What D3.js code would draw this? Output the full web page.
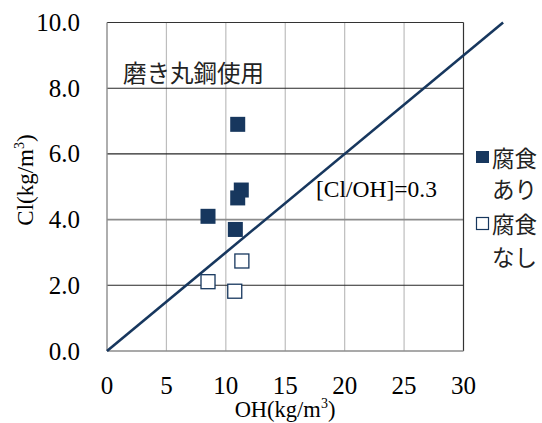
<!DOCTYPE html>
<html><head><meta charset="utf-8">
<script src="https://cdn.jsdelivr.net/npm/d3@7"></script>
<style>
body{margin:0;background:#fff}svg{display:block}
</style>
</head><body>
<svg id="c" width="542" height="423"></svg>
<script>
// Corroded specimens (腐食あり)
const corrodedOH = [11.0, 11.3, 11.0, 8.5, 10.8];
const corrodedCl = [6.9, 4.9, 4.66, 4.1, 3.7];
// Non-corroded specimens (腐食なし)
const cleanOH = [11.35, 8.5, 10.75];
const cleanCl = [2.74, 2.11, 1.82];
const xTicks = [0, 5, 10, 15, 20, 25, 30];
const yTicks = [0, 2, 4, 6, 8, 10];
const ratio = 0.3;
const navy = "#17375e";
const SERIF = '"Liberation Serif", Tinos, "Times New Roman", "DejaVu Serif", serif';
const JP = '"Noto Sans CJK JP", sans-serif';

const svg = d3.select("#c");
const L = 107, R = 463.5, T = 22.5, B = 351;
const x = d3.scaleLinear().domain([0, 30]).range([L, R]);
const y = d3.scaleLinear().domain([0, 10]).range([B, T]);

// vertical grid
svg.append("g").selectAll("line").data(xTicks.slice(1, -1)).join("line")
  .attr("x1", d => x(d)).attr("x2", d => x(d)).attr("y1", T).attr("y2", B)
  .attr("stroke", "#bdbdbd").attr("stroke-width", 1.2);
// horizontal grid
svg.append("g").selectAll("line").data(yTicks.slice(1, -1)).join("line")
  .attr("x1", L).attr("x2", R).attr("y1", d => y(d)).attr("y2", d => y(d))
  .attr("stroke", d => d === 4 ? "#8c8c8c" : "#262626")
  .attr("stroke-width", d => d === 4 ? 1.6 : 1.1);
// frame
svg.append("line").attr("x1", L).attr("x2", R).attr("y1", T).attr("y2", T).attr("stroke", "#333").attr("stroke-width", 1.2);
svg.append("line").attr("x1", R).attr("x2", R).attr("y1", T).attr("y2", B).attr("stroke", "#333").attr("stroke-width", 1.2);
svg.append("line").attr("x1", L).attr("x2", R).attr("y1", B).attr("y2", B).attr("stroke", "#8c8c8c").attr("stroke-width", 1.4);
svg.append("line").attr("x1", L).attr("x2", L).attr("y1", T).attr("y2", B).attr("stroke", "#8c8c8c").attr("stroke-width", 1.4);

// tick labels
svg.append("g").selectAll("text").data(yTicks).join("text")
  .style("font-family", SERIF).style("font-size", "25px")
  .attr("x", 80).attr("y", d => y(d) + 8.5).attr("text-anchor", "end").attr("fill", "#000")
  .text(d => d.toFixed(1));
svg.append("g").selectAll("text").data(xTicks).join("text")
  .style("font-family", SERIF).style("font-size", "25px")
  .attr("x", d => x(d)).attr("y", 394).attr("text-anchor", "middle").attr("fill", "#000")
  .text(d => d);

// axis titles
const xt = svg.append("text").style("font-family", SERIF).style("font-size", "22.5px")
  .attr("x", 285).attr("y", 417).attr("text-anchor", "middle").attr("fill", "#000");
xt.append("tspan").text("OH(kg/m");
xt.append("tspan").style("font-size", "14px").attr("dy", -9).text("3");
xt.append("tspan").attr("dy", 9).text(")");
const yt = svg.append("text").style("font-family", SERIF).style("font-size", "23px")
  .attr("transform", "translate(33,180) rotate(-90)").attr("text-anchor", "middle").attr("fill", "#000");
yt.append("tspan").text("Cl(kg/m");
yt.append("tspan").style("font-size", "14px").attr("dy", -9).text("3");
yt.append("tspan").attr("dy", 9).text(")");

// [Cl/OH] reference line
svg.append("line").attr("x1", x(0)).attr("y1", y(0)).attr("x2", x(10 / ratio)).attr("y2", y(10))
  .attr("stroke", navy).attr("stroke-width", 2.6);

// annotations
svg.append("text").style("font-family", SERIF).style("font-size", "23.5px")
  .attr("x", 316).attr("y", 197).attr("fill", "#000").text("[Cl/OH]=" + ratio);
svg.append("text").style("font-family", JP).style("font-size", "23.5px")
  .attr("x", 123).attr("y", 82).attr("fill", "#222").text("磨き丸鋼使用");

// markers
const s1 = 15, s2 = 14;
svg.append("g").selectAll("rect").data(d3.range(corrodedOH.length)).join("rect")
  .attr("x", i => x(corrodedOH[i]) - s1 / 2).attr("y", i => y(corrodedCl[i]) - s1 / 2)
  .attr("width", s1).attr("height", s1).attr("fill", navy);
svg.append("g").selectAll("rect").data(d3.range(cleanOH.length)).join("rect")
  .attr("x", i => x(cleanOH[i]) - s2 / 2).attr("y", i => y(cleanCl[i]) - s2 / 2)
  .attr("width", s2).attr("height", s2).attr("fill", "#fff").attr("stroke", navy).attr("stroke-width", 1.3);

// legend
const lg = svg.append("g");
const lgText = (tx, ty, s) => lg.append("text").style("font-family", JP).style("font-size", "22.5px")
  .attr("x", tx).attr("y", ty).attr("fill", "#222").text(s);
lg.append("rect").attr("x", 476).attr("y", 151).attr("width", 13).attr("height", 12).attr("fill", navy);
lgText(492, 167, "腐食");
lgText(492, 198, "あり");
lg.append("rect").attr("x", 476.5).attr("y", 217.5).attr("width", 12).attr("height", 12)
  .attr("fill", "#fff").attr("stroke", navy).attr("stroke-width", 1.2);
lgText(492, 233, "腐食");
lgText(492, 266, "なし");
</script>
</body></html>
